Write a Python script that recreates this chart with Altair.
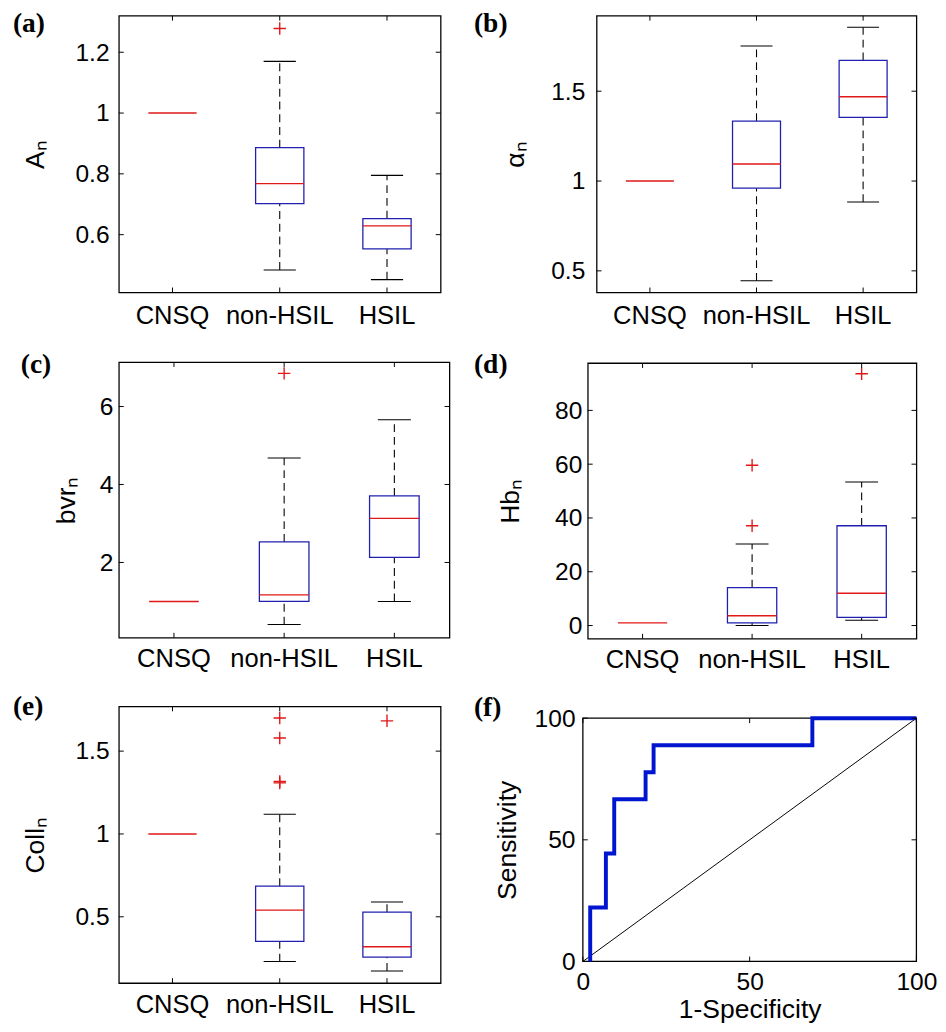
import altair as alt
import pandas as pd

categories = ["CNSQ", "non-HSIL", "HSIL"]

# (a) A_n
a_lo = [1.0, 0.484, 0.452]
a_q1 = [1.0, 0.702, 0.553]
a_med = [1.0, 0.768, 0.629]
a_q3 = [1.0, 0.886, 0.653]
a_hi = [1.0, 1.170, 0.795]
a_out_cat = ["non-HSIL"]
a_out_val = [1.278]

# (b) alpha_n
b_lo = [1.0, 0.445, 0.883]
b_q1 = [1.0, 0.960, 1.354]
b_med = [1.0, 1.095, 1.469]
b_q3 = [1.0, 1.334, 1.672]
b_hi = [1.0, 1.752, 1.856]
b_out_cat = []
b_out_val = []

# (c) bvr_n
c_lo = [1.0, 0.41, 1.0]
c_q1 = [1.0, 1.0, 2.13]
c_med = [1.0, 1.17, 3.13]
c_q3 = [1.0, 2.53, 3.71]
c_hi = [1.0, 4.68, 5.66]
c_out_cat = ["non-HSIL"]
c_out_val = [6.85]

# (d) Hb_n
d_lo = [1.0, 0.0, 1.95]
d_q1 = [1.0, 0.97, 3.04]
d_med = [1.0, 3.65, 12.0]
d_q3 = [1.0, 14.1, 37.1]
d_hi = [1.0, 30.3, 53.4]
d_out_cat = ["non-HSIL", "non-HSIL", "HSIL"]
d_out_val = [59.6, 37.1, 93.6]

# (e) Coll_n
e_lo = [1.0, 0.230, 0.173]
e_q1 = [1.0, 0.351, 0.256]
e_med = [1.0, 0.540, 0.319]
e_q3 = [1.0, 0.685, 0.528]
e_hi = [1.0, 1.119, 0.589]
e_out_cat = ["non-HSIL", "non-HSIL", "non-HSIL", "non-HSIL", "HSIL"]
e_out_val = [1.70, 1.579, 1.317, 1.308, 1.683]

# (f) ROC curve (step-before vertices) and chance line
roc_fpr = [2.2, 6.9, 9.4, 18.8, 21.2, 68.8, 100]
roc_tpr = [0, 22.2, 44.4, 66.7, 77.8, 88.9, 100]
diag_x = [0, 100]
diag_y = [0, 100]
roc_domain = [0, 100]
roc_ticks = [0, 50, 100]

BOX_BLUE = "#2020b0"
MED_RED = "#e01818"
SANS = "Liberation Sans"
SERIF = "Liberation Serif"


def letter_layer(letter, dx, dy):
    return alt.Chart(pd.DataFrame({"t": [letter]})).mark_text(
        font=SERIF, fontWeight="bold", fontSize=28, align="left",
        baseline="top", color="black"
    ).encode(text="t:N", x=alt.value(dx), y=alt.value(dy))


def box_panel(letter, lo, q1, med, q3, hi, out_cat, out_val, ydomain, yticks,
              ytitle, width, height, letter_dx, letter_dy, lab_pad_y,
              title_pad_y, lab_pad_x):
    n = len(categories)
    spread = [i for i in range(n) if q3[i] > q1[i]]
    stats = pd.DataFrame({"cat": categories, "med": med})
    box_df = pd.DataFrame({"cat": [categories[i] for i in spread],
                           "q1": [q1[i] for i in spread],
                           "q3": [q3[i] for i in spread]})
    wl = [i for i in range(n) if hi[i] > lo[i]]
    whisk = pd.DataFrame({
        "cat": [categories[i] for i in wl] * 2,
        "y1": [q3[i] for i in wl] + [lo[i] for i in wl],
        "y2": [hi[i] for i in wl] + [q1[i] for i in wl],
    })
    caps = pd.DataFrame({"cat": [categories[i] for i in wl] * 2,
                         "v": [hi[i] for i in wl] + [lo[i] for i in wl]})
    outl = pd.DataFrame({"cat": out_cat, "v": out_val})
    yt = pd.DataFrame({"t": yticks})
    xt = pd.DataFrame({"cat": categories})

    xscale = alt.Scale(domain=categories, paddingInner=0, paddingOuter=0)
    xaxis = alt.Axis(labelAngle=0, labelPadding=lab_pad_x, labelFontSize=26)
    yscale = alt.Scale(domain=ydomain, nice=False, zero=False)
    yaxis = alt.Axis(values=yticks, format="~r", labelPadding=lab_pad_y,
                     titlePadding=title_pad_y, minExtent=0, labelFontSize=25,
                     titleFontSize=27)

    def X(f="cat:N"):
        return alt.X(f, scale=xscale, axis=xaxis, title=None)

    def Y(f):
        return alt.Y(f, scale=yscale, axis=yaxis, title=ytitle)

    whiskers = alt.Chart(whisk).mark_rule(
        color="black", strokeWidth=1.1, strokeDash=[8, 5]
    ).encode(x=X(), y=Y("y1:Q"), y2="y2:Q")
    capm = alt.Chart(caps).mark_bar(
        width=alt.RelativeBandSize(0.3), fillOpacity=0, stroke="black",
        strokeWidth=1.1
    ).encode(x=X(), y=Y("v:Q"), y2="v:Q")
    boxes = alt.Chart(box_df).mark_bar(
        width=alt.RelativeBandSize(0.45), fillOpacity=0, stroke=BOX_BLUE,
        strokeWidth=1.3
    ).encode(x=X(), y=Y("q1:Q"), y2="q3:Q")
    medians = alt.Chart(stats).mark_bar(
        width=alt.RelativeBandSize(0.45), fillOpacity=0, stroke=MED_RED,
        strokeWidth=1.4
    ).encode(x=X(), y=Y("med:Q"), y2="med:Q")
    layers = [whiskers, capm, boxes, medians]
    if len(out_val):
        pts = alt.Chart(outl).mark_point(
            shape="M-1,0L1,0M0,-1L0,1", size=160, filled=False, stroke=MED_RED,
            strokeWidth=1.4, opacity=1
        ).encode(x=X(), y=Y("v:Q"))
        layers.append(pts)
    tick_l = alt.Chart(yt).mark_rule(color="black", strokeWidth=1).encode(
        x=alt.value(0), x2=alt.value(5), y=Y("t:Q"))
    tick_r = alt.Chart(yt).mark_rule(color="black", strokeWidth=1).encode(
        x=alt.value(width - 5), x2=alt.value(width), y=Y("t:Q"))
    tick_t = alt.Chart(xt).mark_rule(color="black", strokeWidth=1).encode(
        x=X(), y=alt.value(0), y2=alt.value(5))
    tick_b = alt.Chart(xt).mark_rule(color="black", strokeWidth=1).encode(
        x=X(), y=alt.value(height - 5), y2=alt.value(height))
    layers += [tick_l, tick_r, tick_t, tick_b,
               letter_layer(letter, letter_dx, letter_dy)]
    return alt.layer(*layers).properties(width=width, height=height)


pa = box_panel("(a)", a_lo, a_q1, a_med, a_q3, a_hi, a_out_cat, a_out_val,
               [0.41, 1.32], [0.6, 0.8, 1, 1.2], "Aₙ", 328, 282, -108, -5,
               10, 26, 11)
pb = box_panel("(b)", b_lo, b_q1, b_med, b_q3, b_hi, b_out_cat, b_out_val,
               [0.38, 1.92], [0.5, 1, 1.5], "αₙ", 326, 282, -125, -5,
               12, 22, 11)
pc = box_panel("(c)", c_lo, c_q1, c_med, c_q3, c_hi, c_out_cat, c_out_val,
               [0.07, 7.14], [2, 4, 6], "bvrₙ", 337, 281, -100, -11,
               6, 19, 8)
pd_ = box_panel("(d)", d_lo, d_q1, d_med, d_q3, d_hi, d_out_cat, d_out_val,
                [-4.9, 97.6], [0, 20, 40, 60, 80], "Hbₙ", 335, 281, -116, -12,
                6, 31, 8)
pe = box_panel("(e)", e_lo, e_q1, e_med, e_q3, e_hi, e_out_cat, e_out_val,
               [0.1, 1.77], [0.5, 1, 1.5], "Collₙ", 328, 282, -108, -13,
               10, 26, 9)

# (f) ROC panel: view is taller than the plot box so that the box sits lower
fw, fview, ftop = 340, 260, 12
fxs = alt.Scale(domain=roc_domain, nice=False, zero=False)
fys = alt.Scale(domain=roc_domain, nice=False, zero=False,
                range=[fview, ftop])
fxa = alt.Axis(values=roc_ticks, format="d", labelPadding=9, labelFontSize=25,
               titleFontSize=27, titlePadding=2, labelFlush=False)
fya = alt.Axis(values=roc_ticks, format="d", labelPadding=8, labelFontSize=25,
               titleFontSize=27, titlePadding=13, minExtent=0, labelFlush=False)


def FX(f):
    return alt.X(f, scale=fxs, axis=fxa, title="1-Specificity")


def FY(f):
    return alt.Y(f, scale=fys, axis=fya, title="Sensitivity")


frame = alt.Chart(pd.DataFrame({
    "x0": [roc_domain[0]], "x1": [roc_domain[1]],
    "y0": [roc_domain[0]], "y1": [roc_domain[1]]
})).mark_rect(fillOpacity=0, stroke="black", strokeWidth=1.3).encode(
    x=FX("x0:Q"), x2="x1:Q", y=FY("y0:Q"), y2="y1:Q")
diag = alt.Chart(pd.DataFrame({"x": diag_x, "y": diag_y})).mark_line(
    color="black", strokeWidth=1).encode(x=FX("x:Q"), y=FY("y:Q"))
roc = alt.Chart(pd.DataFrame({"x": roc_fpr, "y": roc_tpr})).mark_line(
    color="#0015d0", strokeWidth=4, interpolate="step-before").encode(
    x=FX("x:Q"), y=FY("y:Q"))
ft = pd.DataFrame({"t": roc_ticks})
f_tl = alt.Chart(ft).mark_rule(color="black").encode(
    x=alt.value(0), x2=alt.value(5), y=FY("t:Q"))
f_tr = alt.Chart(ft).mark_rule(color="black").encode(
    x=alt.value(fw - 5), x2=alt.value(fw), y=FY("t:Q"))
f_tt = alt.Chart(ft).mark_rule(color="black").encode(
    x=FX("t:Q"), y=alt.value(ftop), y2=alt.value(ftop + 5))
f_tb = alt.Chart(ft).mark_rule(color="black").encode(
    x=FX("t:Q"), y=alt.value(fview - 5), y2=alt.value(fview))
pf = alt.layer(frame, diag, roc, f_tl, f_tr, f_tt, f_tb,
               letter_layer("(f)", -111, -12)).properties(
    width=fw, height=fview, view=alt.ViewBackground(stroke="transparent"))

chart = alt.concat(
    pa, pb, pc, pd_, pe, pf, columns=2, align="none",
    spacing={"row": 21, "column": 22}
).properties(
    padding={"left": 4, "top": -8, "right": 0, "bottom": 0}
).configure_view(
    stroke="black", strokeWidth=1.3
).configure_axis(
    grid=False, domain=False, ticks=False, labelFont=SANS, titleFont=SANS,
    labelColor="black", titleColor="black", titleFontWeight="normal",
    labelFlush=False, labelOverlap=False
)

chart.save("out.html", embed_options={"renderer": "svg", "actions": False})
